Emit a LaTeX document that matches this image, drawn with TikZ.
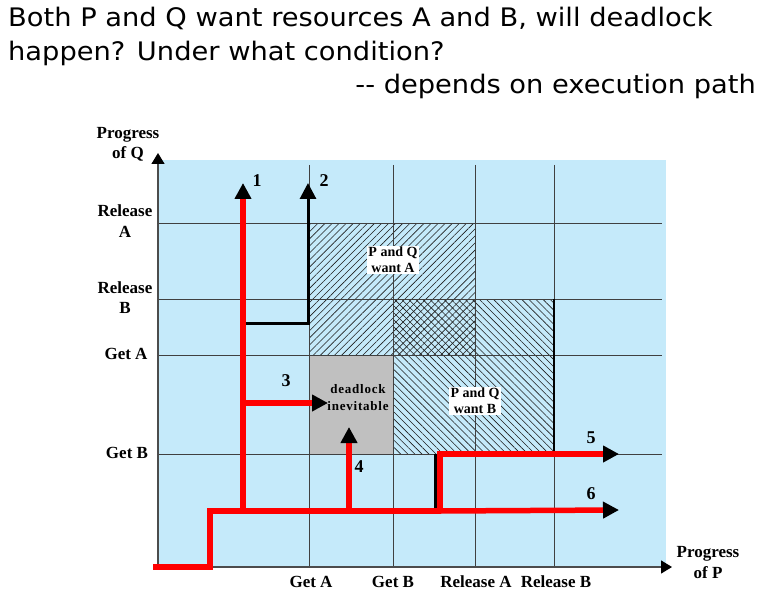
\documentclass[tikz,border=0pt]{standalone}
\usepackage{fontspec}
\usepackage{graphicx}
\setmainfont{Liberation Serif}
\newfontfamily\titlefont{DejaVu Sans}
\newfontfamily\spfont{Liberation Serif}[LetterSpace=6]
\usetikzlibrary{arrows.meta,patterns.meta}
\definecolor{bgblue}{RGB}{197,234,250}
\definecolor{dlgray}{RGB}{192,192,192}
\definecolor{pathred}{RGB}{255,0,0}
\definecolor{hatch}{RGB}{30,30,30}
\newcommand{\wide}[1]{\scalebox{1.07}[1]{#1}}
\begin{document}
\begin{tikzpicture}[x=1pt,y=-1pt,
  gridline/.style={draw=black!75,line width=0.8pt},
  axisline/.style={draw=black!70,line width=1.3pt,-{Triangle[length=11pt,width=13pt,black]}},
  redpath/.style={draw=pathred,line width=5.5pt},
  blackpath/.style={draw=black,line width=3pt},
  tipped/.style={-{Triangle[length=16pt,width=16pt,black]}},
  title/.style={font=\titlefont\fontsize{25.5}{30}\selectfont,inner sep=0pt},
  lbl/.style={font=\fontsize{17}{20}\selectfont\bfseries,inner sep=0pt,anchor=base},
  num/.style={font=\fontsize{18}{20}\selectfont\bfseries,inner sep=0pt},
  inlbl/.style={font=\fontsize{14}{16}\selectfont\bfseries,align=center,inner sep=1.5pt,fill=white},
  dllbl/.style={font=\spfont\fontsize{13}{17}\selectfont\bfseries,align=center,inner sep=0pt}
]
\useasboundingbox (0,0) rectangle (767,612);

% title
\node[title,anchor=base west] (t1) at (8,27) {\wide{Both P and Q want resources A and B, will deadlock}};
\node[title,anchor=base west] (t2) at (8,61) {\wide{happen? Under what condition?}};
\node[title,anchor=base east] (t3) at (756,94) {\wide{-\kern0pt- depends on execution path}};

% background
\fill[bgblue] (158,160) rectangle (666,567);
% deadlock region
\fill[dlgray] (309,355) rectangle (393,454);
% hatched regions
\fill[pattern={Lines[angle=45,distance=5pt,line width=0.6pt]},pattern color=hatch] (309,223) rectangle (475,355);
\fill[pattern={Lines[angle=-45,distance=5pt,line width=0.6pt]},pattern color=hatch] (393,299) rectangle (554,454);

% grid
\foreach \gx in {309,393,475,554} \draw[gridline] (\gx,165) -- (\gx,567);
\foreach \gy in {223,299,355,454} \draw[gridline] (158,\gy) -- (662,\gy);
\draw[black,line width=1.3pt] (554,299) -- (554,454);

% inner labels
\node[inlbl] (wantA) at (393,260) {P and Q\\want A};
\node[inlbl] (wantB) at (475,401) {P and Q\\want B};
\node[dllbl] (dl) at (358,398) {deadlock\\inevitable};

% axes
\coordinate (O) at (158,567);
\coordinate (qtip) at (158,153);
\coordinate (ptip) at (672,567);
\draw[axisline] (O) -- (qtip);
\draw[axisline] (O) -- (ptip);

% path coordinates
\coordinate (s0) at (153,567);
\coordinate (s1) at (210,567);
\coordinate (s2) at (210,511);
\coordinate (b1) at (243,511);
\coordinate (b1t) at (243,183);
\coordinate (b2) at (243,323);
\coordinate (b2c) at (308,323);
\coordinate (b2t) at (308,183);
\coordinate (b3) at (243,403);
\coordinate (b3t) at (328,403);
\coordinate (b4) at (349,511);
\coordinate (b4t) at (349,427);
\coordinate (k0) at (435,454);
\coordinate (k1) at (435,511);
\coordinate (b5) at (440,511);
\coordinate (b5c) at (440,454);
\coordinate (b5t) at (619,454);
\coordinate (b6t) at (619,510);

% black paths
\draw[blackpath,tipped] (b2) -- (b2c) -- (b2t);
\draw[blackpath] (k0) -- (k1);
% red paths
\draw[redpath] (s0) -- (s1) -- (s2) -- (b5);
\draw[redpath,tipped] (b5) -- (b6t);
\draw[redpath,tipped] (b1) -- (b1t);
\draw[redpath,tipped] (b3) -- (b3t);
\draw[redpath,tipped] (b4) -- (b4t);
\draw[redpath,tipped] (b5) -- (b5c) -- (b5t);

% numbers
\node[num] (n1) at (257,181) {1};
\node[num] (n2) at (324,181) {2};
\node[num] (n3) at (286,381) {3};
\node[num] (n4) at (359,467) {4};
\node[num] (n5) at (591,438) {5};
\node[num] (n6) at (591,494) {6};

% y axis labels
\node[lbl] (pq1) at (128,139) {Progress};
\node[lbl] (pq2) at (128,159) {of Q};
\node[lbl] (ra1) at (125,216) {Release};
\node[lbl] (ra2) at (125,237) {A};
\node[lbl] (rb1) at (125,293) {Release};
\node[lbl] (rb2) at (125,313) {B};
\node[lbl] (ga) at (126,359) {Get A};
\node[lbl] (gb) at (127,458) {Get B};

% x axis labels
\node[lbl] (xga) at (311,587) {Get A};
\node[lbl] (xgb) at (393,587) {Get B};
\node[lbl] (xra) at (476,587) {Release A};
\node[lbl] (xrb) at (556,587) {Release B};
\node[lbl] (pp1) at (708,557) {Progress};
\node[lbl] (pp2) at (708,578) {of P};
\end{tikzpicture}
\end{document}
